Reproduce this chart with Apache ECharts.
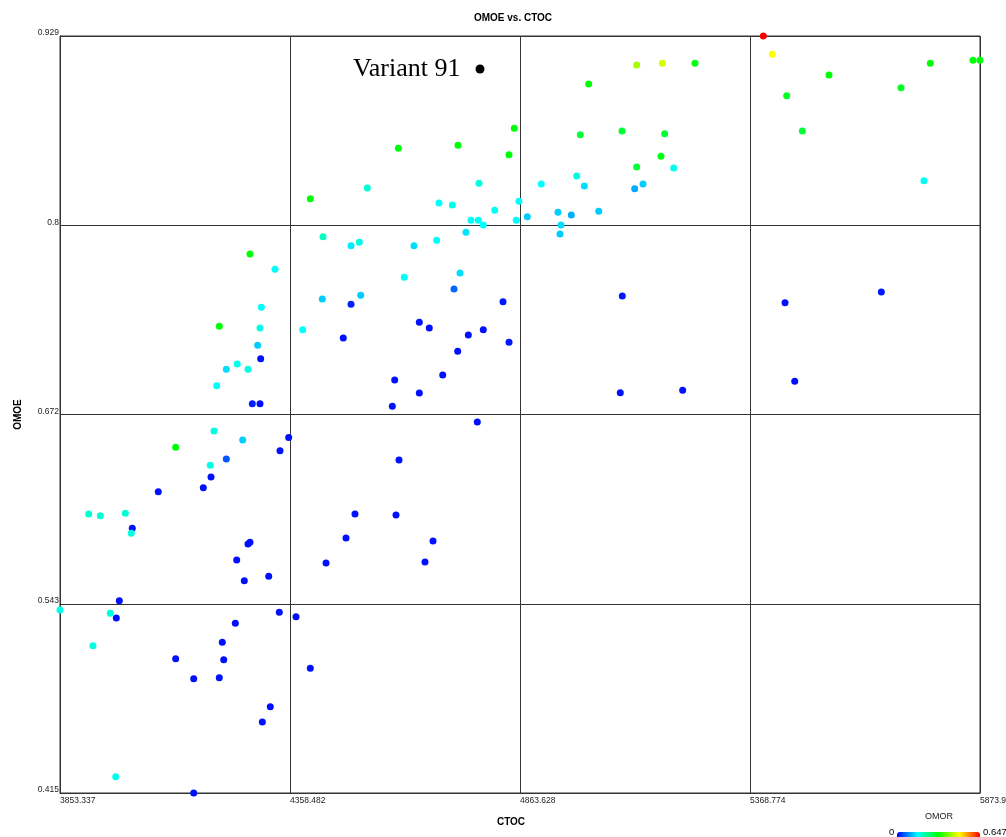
<!DOCTYPE html>
<html>
<head>
<meta charset="utf-8">
<script src="https://cdn.jsdelivr.net/npm/echarts@6/dist/echarts.min.js"></script>
<style>
html,body{margin:0;padding:0;background:#fff;overflow:hidden;}
#chart{width:1006px;height:837px;}
</style>
</head>
<body>
<div id="chart"></div>
<script>
// ---- data ----
const xTickLabels = ['3853.337', '4358.482', '4863.628', '5368.774', '5873.92'];
const yTickLabels = ['0.415', '0.543', '0.672', '0.8', '0.929'];
const xMin = 3853.337, xMax = 5873.92;
const yMin = 0.415, yMax = 0.929;
const omorMin = 0, omorMax = 0.647;
const omorLabels = ['0', '0.647'];

const ctoc = [5398.0, 5417.8, 5248.0, 5176.2, 5119.9, 5014.5, 4851.1, 4839.5, 4996.1, 5087.7,
  5181.4, 5173.3, 5119.9, 5201.2, 4988.2, 5004.9, 4910.4, 5115.5, 5133.8, 4861.4,
  4855.5, 4879.7, 4947.1, 4976.3, 5036.5, 4953.7, 4951.5, 5449.4, 5542.3, 5483.7,
  5700.4, 5764.8, 5858.6, 5873.9, 5750.9, 5445.7, 5657.2, 5467.0, 5088.3, 5083.9,
  5220.9, 4826.3, 4839.5, 4727.5, 4596.4, 4403.1, 4528.3, 4773.6, 4685.7, 4715.0,
  4808.1, 4756.0, 4772.1, 4783.0, 4745.0, 4680.7, 4630.8, 4431.0, 4492.5, 4510.7,
  4609.5, 4731.9, 4429.4, 4513.8, 4492.5, 4718.7, 4386.4, 4475.5, 4642.5, 4664.4,
  4783.0, 4750.1, 4726.8, 4693.9, 4588.4, 4642.5, 4583.2, 4769.9, 4355.6, 4270.6,
  4325.5, 4295.5, 4203.2, 4292.6, 4287.5, 4294.1, 4242.7, 4218.6, 4266.2, 4197.5,
  4275.7, 4292.6, 4191.6, 4254.6, 4336.5, 4107.4, 4218.6, 4183.4, 4185.0, 4168.1,
  4069.2, 3916.4, 3941.9, 3996.8, 4012.1, 4009.9, 4266.2, 4270.6, 4241.4, 4258.1,
  4311.7, 3983.6, 3853.3, 3963.8, 3977.0, 4335.0, 4371.7, 4238.4, 3925.8, 4209.8,
  4107.4, 4212.9, 4147.0, 4203.2, 4403.1, 4315.2, 4297.7, 3975.7, 4147.0, 4437.6,
  4481.5, 4501.2, 4591.3, 4597.9, 4672.6, 4655.0];

const omoe = [0.929, 0.9166, 0.9105, 0.9105, 0.9093, 0.8964, 0.8663, 0.8484, 0.8620, 0.8645,
  0.8627, 0.8473, 0.8401, 0.8394, 0.8339, 0.8272, 0.8285, 0.8253, 0.8285, 0.8168,
  0.8039, 0.8063, 0.8093, 0.8075, 0.8100, 0.8007, 0.7946, 0.8885, 0.9025, 0.8645,
  0.8939, 0.9105, 0.9125, 0.9125, 0.8308, 0.7479, 0.7552, 0.6945, 0.7525, 0.6868,
  0.6884, 0.7486, 0.7210, 0.8548, 0.8527, 0.8185, 0.8258, 0.8290, 0.8156, 0.8143,
  0.8107, 0.8039, 0.8039, 0.8007, 0.7957, 0.7903, 0.7866, 0.7927, 0.7866, 0.7889,
  0.7652, 0.7681, 0.7504, 0.7529, 0.7468, 0.7572, 0.7296, 0.7240, 0.7346, 0.7307,
  0.7296, 0.7260, 0.7149, 0.6988, 0.6954, 0.6866, 0.6776, 0.6669, 0.6563, 0.7810,
  0.7706, 0.7448, 0.7319, 0.7307, 0.7190, 0.7099, 0.7063, 0.7027, 0.7027, 0.6916,
  0.6793, 0.6793, 0.6608, 0.6547, 0.6474, 0.6497, 0.6418, 0.6375, 0.6296, 0.6223,
  0.6196, 0.6044, 0.6033, 0.6049, 0.5947, 0.5913, 0.5841, 0.5852, 0.5732, 0.5592,
  0.5621, 0.5456, 0.5393, 0.5370, 0.5338, 0.5377, 0.5347, 0.5302, 0.5150, 0.5173,
  0.5062, 0.5055, 0.4926, 0.4933, 0.4997, 0.4736, 0.4632, 0.4261, 0.4150, 0.5712,
  0.5881, 0.6044, 0.6038, 0.6411, 0.5861, 0.5719];

const omor = [0.647, 0.485, 0.31, 0.46, 0.43, 0.32, 0.32, 0.32, 0.29, 0.29,
  0.29, 0.31, 0.29, 0.17, 0.18, 0.14, 0.165, 0.108, 0.13, 0.165,
  0.16, 0.13, 0.13, 0.11, 0.13, 0.14, 0.13, 0.30, 0.32, 0.29,
  0.30, 0.32, 0.32, 0.32, 0.17, 0.01, 0.015, 0.01, 0.015, 0.01,
  0.01, 0.015, 0.015, 0.32, 0.32, 0.32, 0.19, 0.18, 0.165, 0.175,
  0.165, 0.165, 0.165, 0.165, 0.145, 0.165, 0.14, 0.20, 0.15, 0.18,
  0.165, 0.14, 0.13, 0.13, 0.02, 0.065, 0.165, 0.01, 0.01, 0.01,
  0.01, 0.01, 0.01, 0.01, 0.01, 0.01, 0.01, 0.01, 0.01, 0.32,
  0.165, 0.165, 0.32, 0.175, 0.13, 0.01, 0.175, 0.14, 0.18, 0.165,
  0.02, 0.01, 0.18, 0.13, 0.01, 0.32, 0.054, 0.175, 0.01, 0.01,
  0.01, 0.19, 0.19, 0.19, 0.01, 0.18, 0.01, 0.01, 0.01, 0.01,
  0.01, 0.01, 0.175, 0.18, 0.01, 0.01, 0.01, 0.01, 0.18, 0.01,
  0.01, 0.01, 0.01, 0.01, 0.01, 0.01, 0.01, 0.175, 0.01, 0.01,
  0.01, 0.01, 0.01, 0.01, 0.01, 0.01];

const highlightName = 'Variant 91';
const highlightPoint = [4775.8, 0.9066];

// ---- chart ----
const n = Math.min(ctoc.length, omoe.length, omor.length);
const pts = [];
for (let i = 0; i < n; i++) pts.push([ctoc[i], omoe[i], omor[i]]);

const chart = echarts.init(document.getElementById('chart'), null, {renderer: 'canvas', width: 1006, height: 837});
const lineCol = '#333333';
const font = 'Liberation Sans, Arial, sans-serif';

chart.setOption({
  backgroundColor: '#ffffff',
  animation: false,
  title: {
    text: 'OMOE vs. CTOC',
    left: 508, top: 8, textAlign: 'center',
    textStyle: {fontSize: 10, fontWeight: 'bold', color: '#000', fontFamily: font}
  },
  grid: {left: 60, right: 26, top: 36, bottom: 44, show: true, borderColor: lineCol, borderWidth: 1,
    containLabel: false, outerBoundsMode: 'none'},
  xAxis: [{
    type: 'value', min: 0, max: 4, interval: 1, position: 'bottom',
    name: 'CTOC', nameLocation: 'middle', nameGap: 24,
    nameTextStyle: {fontSize: 10, fontWeight: 'bold', color: '#000', fontFamily: font, padding: [0, 18, 0, 0]},
    axisLine: {show: true, lineStyle: {color: lineCol, width: 1}},
    axisTick: {show: false},
    splitLine: {show: true, lineStyle: {color: lineCol, width: 1}},
    axisLabel: {show: true, showMinLabel: true, showMaxLabel: true, hideOverlap: false, align: 'left', margin: 3,
      fontSize: 8.5, color: '#222', fontFamily: font,
      formatter: v => xTickLabels[Math.round(v)]}
  }, {
    type: 'value', min: xMin, max: xMax, show: false
  }],
  yAxis: [{
    type: 'value', min: 0, max: 4, interval: 1, position: 'left',
    name: 'OMOE', nameLocation: 'middle', nameGap: 37, nameRotate: 90,
    nameTextStyle: {fontSize: 10, fontWeight: 'bold', color: '#000', fontFamily: font},
    axisLine: {show: true, lineStyle: {color: lineCol, width: 1}},
    axisTick: {show: false},
    splitLine: {show: true, lineStyle: {color: lineCol, width: 1}},
    axisLabel: {show: true, showMinLabel: true, showMaxLabel: true, hideOverlap: false,
      verticalAlign: 'bottom', lineHeight: 6, margin: 1,
      fontSize: 8.5, color: '#222', fontFamily: font,
      formatter: v => yTickLabels[Math.round(v)]}
  }, {
    type: 'value', min: yMin, max: yMax, show: false
  }],
  visualMap: {
    type: 'continuous', seriesIndex: 0, dimension: 2,
    min: omorMin, max: omorMax, calculable: false, realtime: false,
    orient: 'horizontal', left: 897, top: 832, padding: 0,
    itemWidth: 14, itemHeight: 83,
    inRange: {color: ['#0000ff', '#00ffff', '#00ff00', '#ffff00', '#ff0000']}
  },
  graphic: [{
    type: 'text', left: 925, top: 812,
    style: {text: 'OMOR', fontSize: 9, fill: '#222', fontFamily: font}
  }, {
    type: 'text', left: 889, top: 827,
    style: {text: omorLabels[0], fontSize: 9.5, fill: '#000', fontFamily: font}
  }, {
    type: 'text', left: 983, top: 827,
    style: {text: omorLabels[1], fontSize: 9.5, fill: '#000', fontFamily: font}
  }],
  series: [{
    type: 'scatter', xAxisIndex: 1, yAxisIndex: 1, clip: false,
    symbol: 'circle', symbolSize: 7, data: pts,
    itemStyle: {opacity: 1}
  }, {
    type: 'scatter', xAxisIndex: 1, yAxisIndex: 1, clip: false,
    symbol: 'circle', symbolSize: 9,
    data: [{value: highlightPoint, name: highlightName}],
    itemStyle: {color: '#000', opacity: 1},
    label: {show: true, position: 'left', distance: 15, formatter: '{b}',
      fontSize: 26, color: '#000', fontFamily: 'Liberation Serif, Times New Roman, serif'}
  }]
});
</script>
</body>
</html>
